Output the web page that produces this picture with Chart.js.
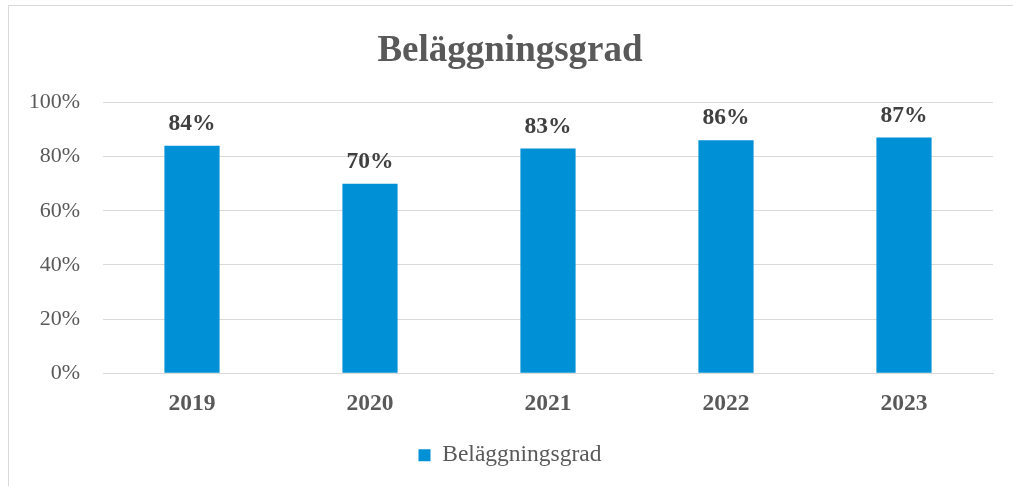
<!DOCTYPE html>
<html>
<head>
<meta charset="utf-8">
<script src="https://cdn.jsdelivr.net/npm/chart.js@4.4.1/dist/chart.umd.min.js"></script>
<style>
  body { margin: 0; background: #fff; }
  #ram { position: absolute; left: 8px; top: 5px; width: 1020px; height: 500px; border: 1px solid #d9d9d9; }
  #wrap { position: absolute; left: 0; top: 0; width: 1013px; height: 486px; }
</style>
</head>
<body>
<div id="ram"></div>
<div id="wrap"><canvas id="graf"></canvas></div>
<script>
'use strict';

// data
let ar = ["2019", "2020", "2021", "2022", "2023"];
let belaggning = [84, 70, 83, 86, 87];
let yTicks = [0, 20, 40, 60, 80, 100];

let serie = "Beläggningsgrad";
let blå = "#0090d5";

// etiketter ovanför staplarna
const etiketter = {
    id: "etiketter",
    afterDatasetsDraw(chart) {
        let ctx = chart.ctx;
        let meta = chart.getDatasetMeta(0);
        ctx.save();
        ctx.font = "bold 23.5px 'Liberation Serif'";
        ctx.fillStyle = "#404040";
        ctx.textAlign = "center";
        ctx.textBaseline = "middle";
        meta.data.forEach((bar, i) => {
            ctx.fillText(belaggning[i] + "%", bar.x, bar.y - 22);
        });
        ctx.restore();
    }
};

new Chart("graf", {
    type: "bar",
    data: {
        labels: ar,
        datasets: [{
            label: serie,
            backgroundColor: blå,
            data: belaggning,
            categoryPercentage: 1,
            barPercentage: 0.31
        }]
    },
    plugins: [etiketter],
    options: {
        responsive: true,
        maintainAspectRatio: false,
        animation: false,
        layout: { padding: { left: 27, right: 20, top: 0, bottom: 9 } },
        plugins: {
            title: {
                display: true,
                text: serie,
                color: "#595959",
                font: { family: "'Liberation Serif'", size: 37, weight: "bold" },
                padding: { top: 29, bottom: 29 }
            },
            legend: {
                position: "bottom",
                labels: {
                    color: "#595959",
                    font: { family: "'Liberation Serif'", size: 23.5 },
                    boxWidth: 12,
                    boxHeight: 12,
                    padding: 16
                }
            },
            tooltip: { enabled: false }
        },
        scales: {
            x: {
                grid: { display: false },
                border: { color: "#d9d9d9" },
                ticks: {
                    color: "#595959",
                    font: { family: "'Liberation Serif'", size: 23.5, weight: "bold" },
                    padding: 9
                }
            },
            y: {
                min: 0,
                max: 100,
                afterBuildTicks: axis => { axis.ticks = yTicks.map(v => ({ value: v })); },
                afterFit: axis => { axis.width = 76; },
                border: { display: false },
                grid: { color: "#d9d9d9", drawTicks: false },
                ticks: {
                    color: "#595959",
                    font: { family: "'Liberation Serif'", size: 22 },
                    padding: 23,
                    callback: v => v + "%"
                }
            }
        }
    }
});
</script>
</body>
</html>
